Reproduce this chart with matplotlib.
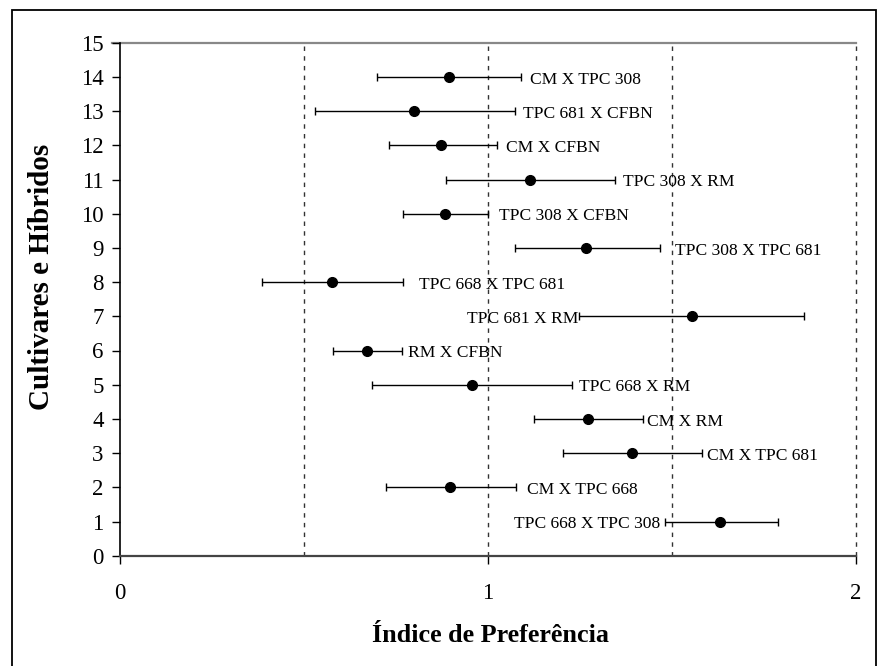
import matplotlib
matplotlib.use("Agg")
import matplotlib.pyplot as plt
from matplotlib.patches import Rectangle

# ---- data ----
cruzamentos = ["CM X TPC 308", "TPC 681 X CFBN", "CM X CFBN", "TPC 308 X RM",
               "TPC 308 X CFBN", "TPC 308 X TPC 681", "TPC 668 X TPC 681",
               "TPC 681 X RM", "RM X CFBN", "TPC 668 X RM", "CM X RM",
               "CM X TPC 681", "CM X TPC 668", "TPC 668 X TPC 308"]
posicao = [14, 13, 12, 11, 10, 9, 8, 7, 6, 5, 4, 3, 2, 1]
indice = [0.893, 0.799, 0.873, 1.114, 0.884, 1.267, 0.576, 1.554, 0.671,
          0.955, 1.271, 1.390, 0.896, 1.631]
limite_inf = [0.698, 0.530, 0.730, 0.886, 0.769, 1.073, 0.384, 1.248, 0.578,
              0.684, 1.125, 1.203, 0.721, 1.481]
limite_sup = [1.090, 1.074, 1.025, 1.346, 1.000, 1.468, 0.769, 1.859, 0.765,
              1.228, 1.421, 1.580, 1.075, 1.787]
rotulo_x = [1.115, 1.094, 1.049, 1.366, 1.029, 1.508, 0.812, 1.246, 0.783,
            1.246, 1.431, 1.595, 1.106, 1.467]
rotulo_lado = ["left", "left", "left", "left", "left", "left", "left", "right",
               "left", "left", "left", "left", "left", "right"]
x_ticks = [0, 1, 2]
y_ticks = list(range(0, 16))
linhas_ref = [0.5, 1.0, 1.5, 2.0]

plt.rcParams['font.family'] = ['Liberation Serif', 'DejaVu Serif']

W, H = 882, 666
fig = plt.figure(figsize=(W / 100, H / 100), dpi=100)
ax = fig.add_axes([120.3 / W, 1 - 555.7 / H, (856 - 120.3) / W, (555.7 - 42.7) / H])

# reference dashed lines
for xv in linhas_ref:
    ax.plot([xv, xv], [0, 15], color="#333333", lw=1.0, ls=(0, (3.2, 3.8)),
            zorder=1, clip_on=False)
ax.plot([-0.022, 2.0], [15, 15], color="#888888", lw=1.6, zorder=1, clip_on=False)

err_lo = [m - lo for m, lo in zip(indice, limite_inf)]
err_hi = [hi - m for m, hi in zip(indice, limite_sup)]
ax.errorbar(indice, posicao, xerr=[err_lo, err_hi], fmt="o", color="black",
            ecolor="black", elinewidth=1.0, capsize=3.2, capthick=1.0,
            markersize=7, zorder=3)

for name, yv, lx, side in zip(cruzamentos, posicao, rotulo_x, rotulo_lado):
    ax.text(lx, yv - 0.08, name, ha=side, va="center", fontsize=12.6, zorder=4)

ax.set_xlim(0, 2)
ax.set_ylim(0, 15)
ax.set_xticks(x_ticks)
ax.set_xticklabels([str(v) for v in x_ticks])
ax.set_yticks(y_ticks)
ax.set_yticklabels([str(v) for v in y_ticks])
ax.tick_params(axis="both", direction="out", length=6, width=1.0, labelsize=16.5, color="black")
ax.tick_params(axis="y", pad=6)
ax.tick_params(axis="x", pad=14)

for s in ["top", "right"]:
    ax.spines[s].set_visible(False)
ax.spines["left"].set_linewidth(1.2)
ax.spines["bottom"].set_linewidth(1.6)
ax.spines["bottom"].set_color("#444444")

fig.text(490 / W, 1 - 636 / H, "Índice de Preferência", ha="center", va="center",
         fontsize=18.8, fontweight="bold")
fig.text(42 / W, 1 - 277 / H, "Cultivares e Híbridos", ha="center", va="center",
         rotation=90, fontsize=21, fontweight="bold")

# outer frame of the figure (bottom edge lies below the image)
fig.patches.append(Rectangle((12 / W, -0.02), (876 - 12) / W, 1.02 - 10 / H,
                             transform=fig.transFigure, fill=False, ec="black", lw=1.3))

fig.savefig("out.png", dpi=100)
